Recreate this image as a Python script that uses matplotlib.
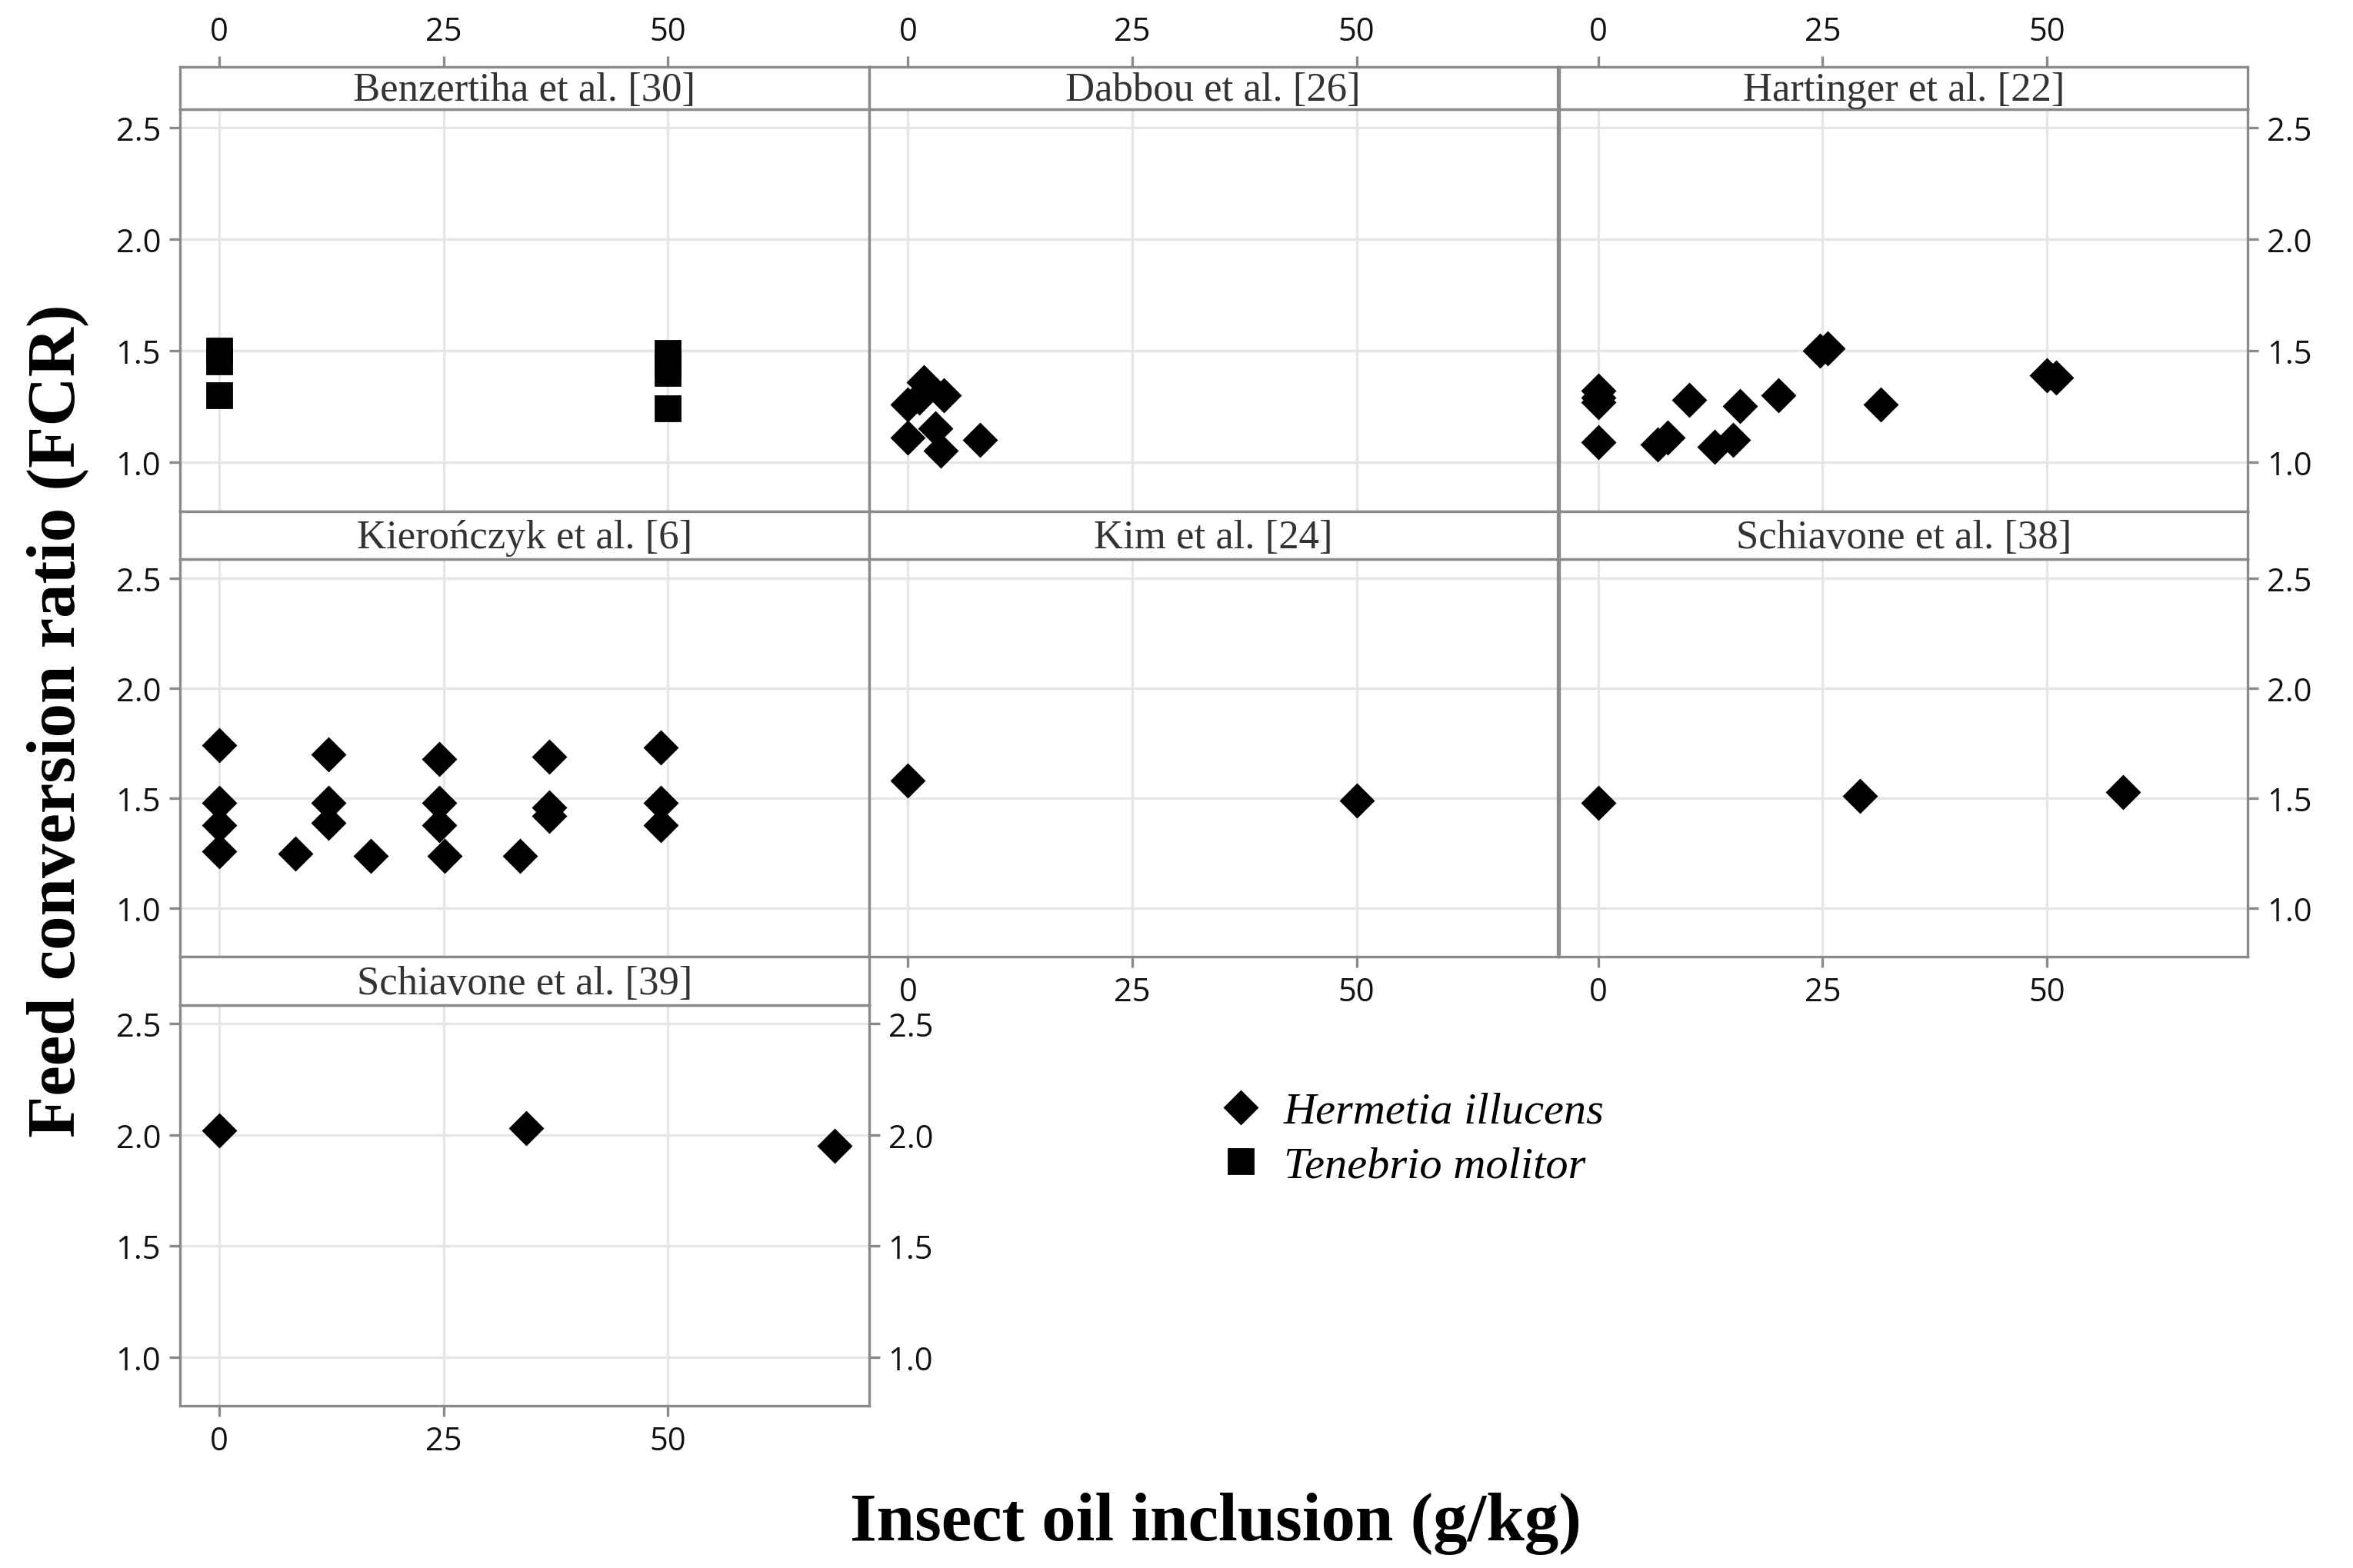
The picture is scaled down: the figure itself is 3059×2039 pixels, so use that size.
import matplotlib
matplotlib.use('Agg')
import matplotlib.pyplot as plt
from matplotlib.lines import Line2D

# data (x = g/kg insect oil, y = FCR)
benz_x = [0, 0, 0, 50, 50, 50, 50]
benz_y = [1.50, 1.45, 1.30, 1.49, 1.44, 1.40, 1.24]

dabbou_x = [0, 1.3, 1.8, 4.0, 0, 3.1, 3.7, 8.0]
dabbou_y = [1.26, 1.29, 1.36, 1.30, 1.11, 1.15, 1.05, 1.10]

hart_x = [0, 0, 0, 0, 6.6, 7.7, 10.1, 13.0, 15.0, 15.8, 20.1, 24.7, 25.6, 31.5, 50.0, 51.0]
hart_y = [1.32, 1.29, 1.27, 1.09, 1.08, 1.11, 1.28, 1.07, 1.10, 1.25, 1.30, 1.50, 1.51, 1.26, 1.39, 1.38]

kier_x = [0, 0, 0, 0, 8.5, 12.2, 12.2, 12.2, 16.9, 24.5, 24.5, 24.5, 25.1, 33.5,
          36.8, 36.8, 36.8, 49.2, 49.2, 49.2]
kier_y = [1.74, 1.48, 1.38, 1.26, 1.25, 1.70, 1.48, 1.39, 1.24, 1.68, 1.48, 1.38, 1.24, 1.24,
          1.69, 1.46, 1.42, 1.73, 1.48, 1.38]

kim_x = [0, 50]
kim_y = [1.58, 1.49]

sch38_x = [0, 29.2, 58.5]
sch38_y = [1.48, 1.51, 1.53]

sch39_x = [0, 34.2, 68.6]
sch39_y = [2.02, 2.03, 1.95]

titles = ["Benzertiha et al. [30]", "Dabbou et al. [26]", "Hartinger et al. [22]",
          "Kierończyk et al. [6]", "Kim et al. [24]", "Schiavone et al. [38]",
          "Schiavone et al. [39]"]
species = ["Hermetia illucens", "Tenebrio molitor"]
xticks = [0, 25, 50]
yticks = [1.0, 1.5, 2.0, 2.5]

# (row, col, title, x, y, species index)
panels = [
    (0, 0, titles[0], benz_x, benz_y, 1),
    (0, 1, titles[1], dabbou_x, dabbou_y, 0),
    (0, 2, titles[2], hart_x, hart_y, 0),
    (1, 0, titles[3], kier_x, kier_y, 0),
    (1, 1, titles[4], kim_x, kim_y, 0),
    (1, 2, titles[5], sch38_x, sch38_y, 0),
    (2, 0, titles[6], sch39_x, sch39_y, 0),
]

markers = {0: dict(marker='D', ms=10.5), 1: dict(marker='s', ms=11.5)}

W, H = 1568.0, 1045.0
col_left = [120, 579, 1039]
col_w = 459
row_strip_top = [45, 341, 638]
row_plot_top = [73, 373, 670]
row_plot_bot = [341, 638, 937]

frame_col = '#8a8a8a'
grid_col = '#e6e6e6'
tick_font = 'Open Sans'
serif = 'Liberation Serif'
tick_size = 15

fig = plt.figure(figsize=(15.295, 10.2), dpi=200)

for row, col, title, xs, ys, sp in panels:
    left = col_left[col] / W
    width = col_w / W
    bot = 1 - row_plot_bot[row] / H
    top = 1 - row_plot_top[row] / H
    ax = fig.add_axes([left, bot, width, top - bot])
    sax = fig.add_axes([left, top, width, (row_plot_top[row] - row_strip_top[row]) / H])

    ax.plot(xs, ys, linestyle='none', color='black', zorder=3, **markers[sp])
    ax.set_xlim(-4.35, 72.4)
    ax.set_ylim(0.78, 2.585)
    ax.set_xticks(xticks)
    ax.set_yticks(yticks)
    ax.grid(True, color=grid_col, linewidth=1.2)
    ax.set_axisbelow(True)
    for s in ax.spines.values():
        s.set_color(frame_col)
        s.set_linewidth(1.2)

    show_left = col == 0
    show_right = col == 2 or (row == 2 and col == 0)
    show_bottom = (row == 1 and col > 0) or row == 2
    ax.tick_params(axis='both', colors=frame_col, labelcolor='#111111', length=5, width=1.2,
                   labelsize=tick_size, pad=4)
    ax.tick_params(axis='y', left=show_left, labelleft=show_left,
                   right=show_right, labelright=show_right)
    ax.tick_params(axis='x', bottom=show_bottom, labelbottom=show_bottom, top=False)
    ax.set_yticklabels([f"{v:.1f}" for v in yticks], family=tick_font)
    ax.set_xticklabels([str(v) for v in xticks], family=tick_font)

    # strip with the study name
    sax.set_xlim(-4.35, 72.4)
    sax.set_yticks([])
    sax.set_xticks(xticks)
    for s in sax.spines.values():
        s.set_color(frame_col)
        s.set_linewidth(1.2)
    if row == 0:
        sax.xaxis.tick_top()
        sax.tick_params(axis='x', colors=frame_col, labelcolor='#111111', length=5, width=1.2,
                        labelsize=tick_size, pad=4)
        sax.set_xticklabels([str(v) for v in xticks], family=tick_font)
    else:
        sax.tick_params(axis='x', bottom=False, labelbottom=False)
    sax.text(0.5, 0.45, title, transform=sax.transAxes, ha='center', va='center',
             family=serif, fontsize=19, color='#333333')

fig.text(38 / W, 1 - 480 / H, "Feed conversion ratio (FCR)", rotation=90, ha='center',
         va='center', family=serif, fontweight='bold', fontsize=32)
fig.text(810 / W, 1 - 1015 / H, "Insect oil inclusion (g/kg)", ha='center', va='center',
         family=serif, fontweight='bold', fontsize=32)

handles = [Line2D([], [], linestyle='none', color='black', **markers[0]),
           Line2D([], [], linestyle='none', color='black', **markers[1])]
fig.legend(handles, species, loc='center left', bbox_to_anchor=(785 / W, 1 - 759 / H),
           frameon=False, prop=dict(family=serif, style='italic', size=21),
           handletextpad=0.45, labelspacing=0.3, handlelength=1.0)

fig.savefig('out.png', dpi=200, facecolor='white')
